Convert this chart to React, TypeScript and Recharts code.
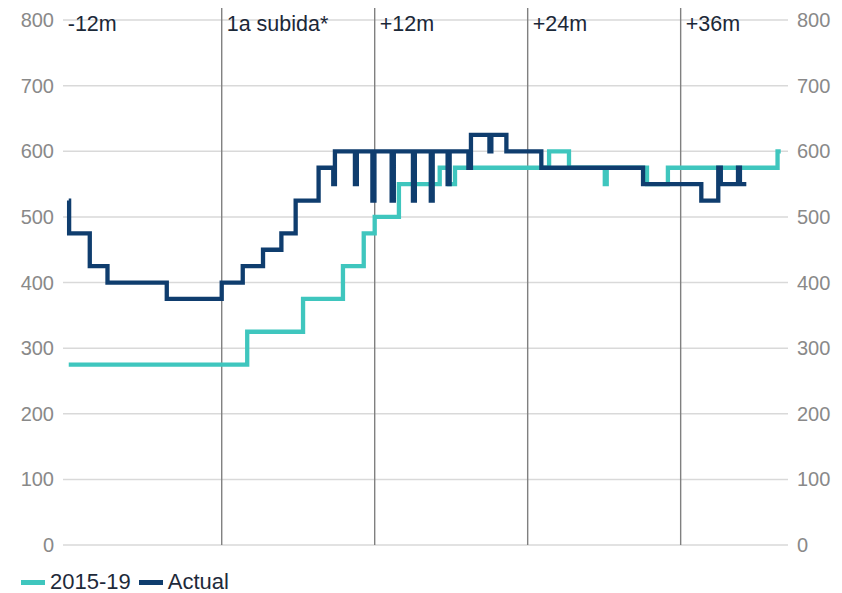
import React from 'react';
import { LineChart, Line, XAxis, YAxis, CartesianGrid, ReferenceLine, Legend } from 'recharts';

// Months relative to the first rate hike, and values (step changes)
const actualMonths = [-12.0, -11.97, -10.35, -8.96, -4.31, 0, 1.65, 3.24, 4.68, 5.8, 7.6, 8.75, 8.88, 10.45, 10.6, 11.82, 11.98, 13.33, 13.5, 15.0, 15.15, 16.4, 16.55, 17.72, 17.88, 19.35, 19.55, 21.0, 21.15, 22.33, 25.07, 33.05, 37.62, 38.95, 39.15, 40.5, 40.65, 41.15];
const actualValues = [525, 475, 425, 400, 375, 400, 425, 450, 475, 525, 575, 550, 600, 550, 600, 525, 600, 525, 600, 525, 600, 525, 600, 550, 600, 575, 625, 600, 625, 600, 575, 550, 525, 575, 550, 575, 550, 550];

const baseMonths = [-12.0, 2.0, 6.38, 9.51, 11.14, 12.0, 13.9, 17.1, 17.85, 18.3, 25.68, 27.24, 30.05, 30.2, 33.36, 35.0, 43.6, 43.85];
const baseValues = [275, 325, 375, 425, 475, 500, 550, 575, 550, 575, 600, 575, 550, 575, 550, 575, 600, 600];

const refMonths = [-12, 0, 12, 24, 36];
const refLabels = ['-12m', '1a subida*', '+12m', '+24m', '+36m'];

const yTicks = [0, 100, 200, 300, 400, 500, 600, 700, 800];

const seriesNames = ['2015-19', 'Actual'];
const TEAL = '#3fc6be';
const NAVY = '#0f3d6e';

const actualData = actualMonths.map((m, i) => ({ m, v: actualValues[i] }));
const baseData = baseMonths.map((m, i) => ({ m, v: baseValues[i] }));

const LegendContent = (props: any) => {
  const payload = props.payload || [];
  return (
    <div style={{ display: 'flex', alignItems: 'center', height: 24, lineHeight: '24px' }}>
      {payload.map((p: any, i: number) => (
        <div key={i} style={{ display: 'flex', alignItems: 'center', marginRight: 8 }}>
          <span style={{ display: 'inline-block', width: 24, height: 5, background: p.color, marginRight: 5 }} />
          <span style={{ fontSize: 22, color: '#1e2a3a' }}>{p.value}</span>
        </div>
      ))}
    </div>
  );
};

export default function App() {
  return (
    <div style={{ margin: '-8px 0 0 -8px', width: 842, height: 593, fontFamily: '"Liberation Sans", Arial, sans-serif' }}>
      <LineChart width={842} height={593} margin={{ top: 7, right: 9, bottom: 24, left: 8 }}>
        <CartesianGrid yAxisId="left" vertical={false} stroke="#d9d9d9" strokeWidth={1.5} />
        <XAxis dataKey="m" type="number" domain={[-12.45, 44.42]} allowDataOverflow hide />
        <YAxis
          yAxisId="left"
          orientation="left"
          width={55}
          domain={[0, 820]}
          ticks={yTicks}
          allowDataOverflow
          axisLine={false}
          tickLine={false}
          tickSize={0}
          tickMargin={9}
          tick={{ fill: '#898989', fontSize: 20 }}
        />
        <YAxis
          yAxisId="right"
          orientation="right"
          width={45}
          domain={[0, 820]}
          ticks={yTicks}
          allowDataOverflow
          axisLine={false}
          tickLine={false}
          tickSize={0}
          tickMargin={9}
          tick={{ fill: '#898989', fontSize: 20, textAnchor: 'start' }}
        />
        {refMonths.map((m, i) => (
          <ReferenceLine
            key={m}
            yAxisId="left"
            x={m}
            stroke={i === 0 ? 'none' : '#808080'}
            strokeWidth={1.4}
            label={(lp: any) => {
              const vb = lp.viewBox || {};
              return (
                <text x={vb.x + (i === 0 ? -1 : 5)} y={vb.y + 24} fill="#1b2838" fontSize={21.5}>
                  {refLabels[i]}
                </text>
              );
            }}
          />
        ))}
        <Line
          yAxisId="left"
          data={baseData}
          dataKey="v"
          name={seriesNames[0]}
          type="stepAfter"
          stroke={TEAL}
          strokeWidth={4.3}
          dot={false}
          activeDot={false}
          isAnimationActive={false}
        />
        <Line
          yAxisId="left"
          data={actualData}
          dataKey="v"
          name={seriesNames[1]}
          type="stepAfter"
          stroke={NAVY}
          strokeWidth={4.3}
          dot={false}
          activeDot={false}
          isAnimationActive={false}
        />
        <Legend
          verticalAlign="bottom"
          align="left"
          content={<LegendContent />}
          wrapperStyle={{ top: 570, bottom: 'auto', left: 21, width: 'auto' }}
        />
      </LineChart>
    </div>
  );
}
